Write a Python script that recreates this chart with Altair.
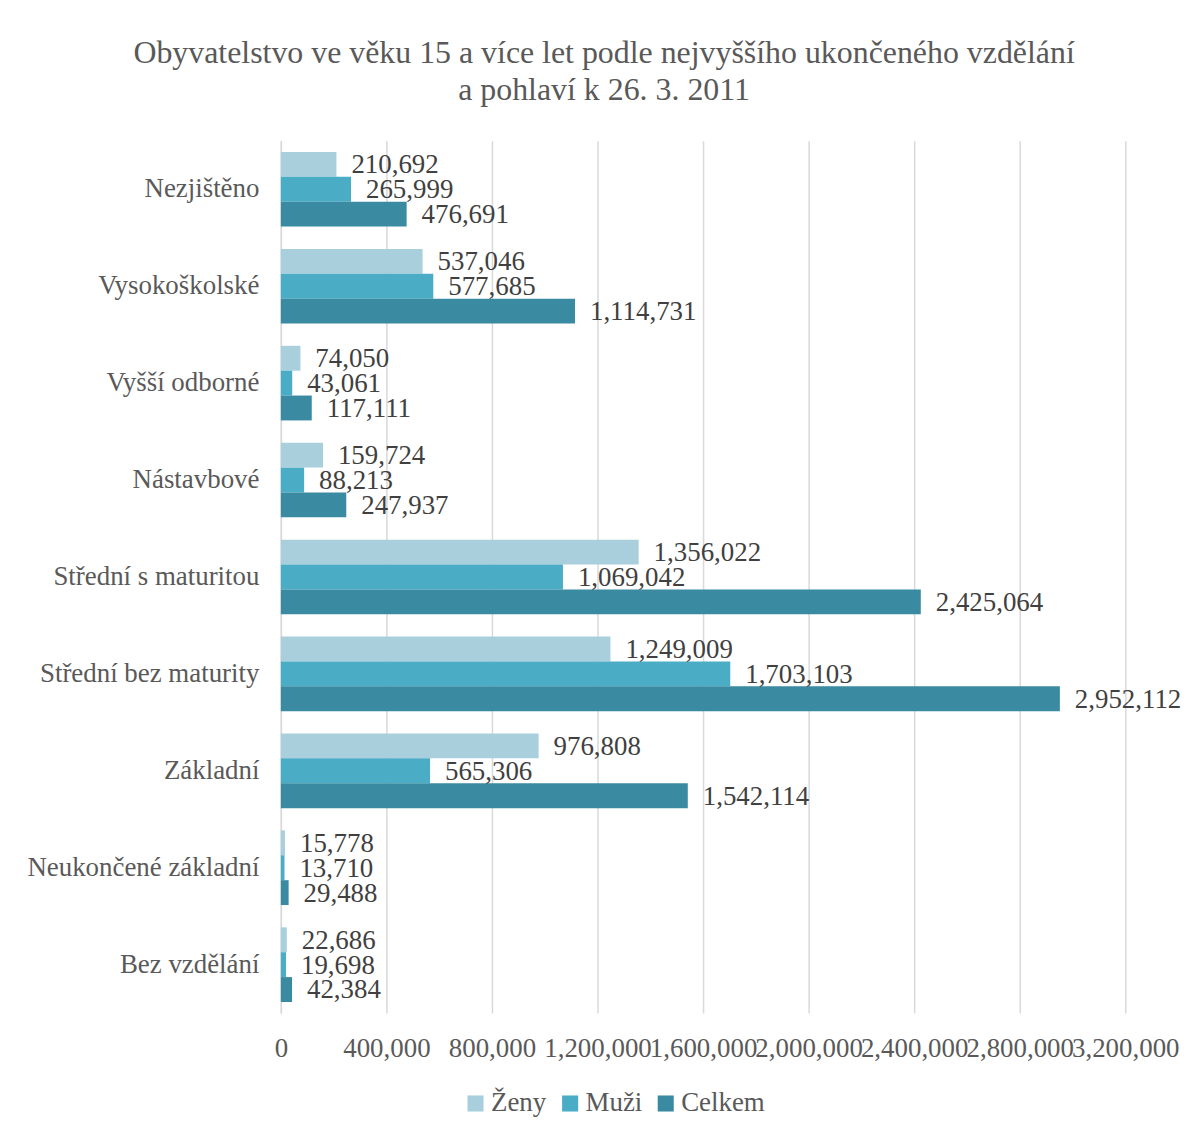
import altair as alt
import pandas as pd

categories = ["Nezjištěno", "Vysokoškolské", "Vyšší odborné", "Nástavbové",
              "Střední s maturitou", "Střední bez maturity", "Základní",
              "Neukončené základní", "Bez vzdělání"]
series = ["Ženy", "Muži", "Celkem"]
zeny = [210692, 537046, 74050, 159724, 1356022, 1249009, 976808, 15778, 22686]
muzi = [265999, 577685, 43061, 88213, 1069042, 1703103, 565306, 13710, 19698]
celkem = [476691, 1114731, 117111, 247937, 2425064, 2952112, 1542114, 29488, 42384]
colors = ["#a9cfdc", "#4bacc6", "#3a8aa2"]
x_ticks = [0, 400000, 800000, 1200000, 1600000, 2000000, 2400000, 2800000, 3200000]

rows = []
for s, vals in zip(series, [zeny, muzi, celkem]):
    for c, v in zip(categories, vals):
        rows.append({"kat": c, "serie": s, "hodnota": v})
df = pd.DataFrame(rows)

FONT = "Liberation Serif"
GREY = "#595959"

y_enc = alt.Y("kat:N", sort=categories, title=None,
              scale=alt.Scale(paddingInner=0.23, paddingOuter=0.115),
              axis=alt.Axis(labelFont=FONT, labelFontSize=27, labelColor=GREY,
                            labelPadding=22, labelLimit=500, ticks=False, domain=True,
                            domainColor="#d9d9d9", domainWidth=1.5, grid=False))
yoff = alt.YOffset("serie:N", sort=series, scale=alt.Scale(paddingInner=0, paddingOuter=0))
x_enc = alt.X("hodnota:Q", title=None,
              scale=alt.Scale(domain=[0, 3200000], nice=False),
              axis=alt.Axis(values=x_ticks, format=",d", labelFont=FONT,
                            labelFontSize=27, labelColor=GREY, labelOverlap=False,
                            labelPadding=23, ticks=False, domain=False,
                            gridColor="#d9d9d9", gridWidth=1.5,
                            labelFlush=False))

bars = alt.Chart(df).mark_bar().encode(
    x=x_enc, y=y_enc, yOffset=yoff,
    color=alt.Color("serie:N", sort=series,
                    scale=alt.Scale(domain=series, range=colors),
                    legend=alt.Legend(title=None, orient="none", direction="horizontal",
                                      legendX=182, legendY=953,
                                      symbolType="square", symbolSize=260,
                                      labelFont=FONT, labelFontSize=27, labelColor=GREY,
                                      symbolStrokeWidth=0, columnPadding=10,
                                      labelOffset=2))
)
labels = alt.Chart(df).mark_text(align="left", baseline="middle", dx=15, dy=1,
                                 font=FONT, fontSize=27, color="#404040").encode(
    x="hodnota:Q", y=alt.Y("kat:N", sort=categories), yOffset=yoff,
    text=alt.Text("hodnota:Q", format=",d")
)

chart = (bars + labels).properties(
    width=848, height=876,
    title=alt.Title(["Obyvatelstvo ve věku 15 a více let podle nejvyššího ukončeného vzdělání",
                     "a pohlaví k 26. 3. 2011"],
                    font=FONT, fontSize=32, fontWeight="normal", color=GREY,
                    anchor="middle", frame="bounds", offset=34, lineHeight=37),
    padding={"left": 18, "top": 27, "right": 10, "bottom": 10},
).configure(background="white", view=alt.ViewConfig(strokeWidth=0))

chart.save("out.html", embed_options={"renderer": "svg", "actions": False})
